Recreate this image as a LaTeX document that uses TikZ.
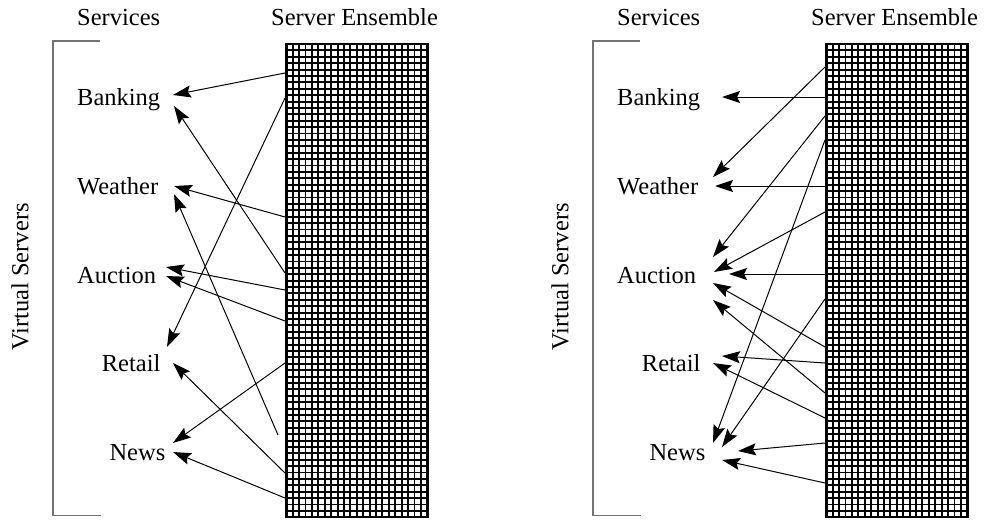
\documentclass[tikz,border=0pt]{standalone}
\usepackage{fontspec}
\setmainfont{Liberation Serif}
\usetikzlibrary{arrows.meta}
\begin{document}
\begin{tikzpicture}[x=1pt,y=-1pt]
\tikzset{
  lbl/.style={font=\fontsize{24.5}{28}\selectfont, inner sep=0pt, anchor=base west},
  link/.style={-{Stealth[length=18pt,width=12pt,inset=3pt]}, line width=1pt},
  brk/.style={draw=black!55, line width=1.3pt},
  ensemble/.style={draw, line width=2.6pt, fill=white, minimum width=141pt,
    minimum height=473pt, anchor=north west, inner sep=0pt,
    path picture={
      \foreach \i in {1,...,21}
        \draw[line width=1.9pt]
          ([xshift=\i*6.409pt]path picture bounding box.north west) --
          ([xshift=\i*6.409pt]path picture bounding box.south west);
      \foreach \j in {1,...,73}
        \draw[line width=1.9pt]
          ([yshift=-\j*6.396pt]path picture bounding box.north west) --
          ([yshift=-\j*6.396pt]path picture bounding box.north east);
    }},
}
\useasboundingbox (0,0) rectangle (987,519);

% ---------- left panel: arbitrary service placement ----------
\begin{scope}
  \node[lbl] (L-svc) at (77,26) {Services};
  \node[lbl] (L-ens) at (271,26) {Server Ensemble};
  \node[font=\fontsize{24.5}{28}\selectfont, rotate=90, inner sep=0pt] (L-vs) at (20,277) {Virtual Servers};
  \draw[brk] (100,41) -- (53,41) -- (53,515.5) -- (101,515.5);
  \node[ensemble] (L-grid) at (285,42.7) {};
  \node[lbl] (L-bank) at (77,105) {Banking};
  \node[lbl] (L-weat) at (77,194) {Weather};
  \node[lbl] (L-auct) at (77,283) {Auction};
  \node[lbl] (L-reta) at (101.7,371) {Retail};
  \node[lbl] (L-news) at (109.3,460) {News};
  % arrow end points
  \foreach \n/\a/\b/\c/\d in {
      1/285/73/173/95, 2/285/98/167/347, 3/285/273/174/106,
      4/285/217/174/186, 5/278/435/174/194, 6/285/290/166/267,
      7/285/321/166/276, 8/285/473/173/363, 9/285/363/173/443,
      10/285/498/173/452} {
    \coordinate (L-s\n) at (\a,\b);
    \coordinate (L-t\n) at (\c,\d);
    \draw[link] (L-s\n) -- (L-t\n);
  }
\end{scope}

% ---------- right panel: grouped service placement ----------
\begin{scope}[xshift=540pt]
  \node[lbl] (R-svc) at (77,26) {Services};
  \node[lbl] (R-ens) at (271,26) {Server Ensemble};
  \node[font=\fontsize{24.5}{28}\selectfont, rotate=90, inner sep=0pt] (R-vs) at (20,277) {Virtual Servers};
  \draw[brk] (100,41) -- (53,41) -- (53,515.5) -- (101,515.5);
  \node[ensemble] (R-grid) at (285,42.7) {};
  \node[lbl] (R-bank) at (77,105) {Banking};
  \node[lbl] (R-weat) at (77,194) {Weather};
  \node[lbl] (R-auct) at (77,283) {Auction};
  \node[lbl] (R-reta) at (101.7,371) {Retail};
  \node[lbl] (R-news) at (109.3,460) {News};
  \foreach \n/\a/\b/\c/\d in {
      1/285/97/182/97, 2/285/67/173/177, 3/285/186/175/186,
      4/285/116/173/257, 5/285/212/174/272, 6/285/274/189/274,
      7/285/140/173/443, 8/285/347/173/283, 9/285/393/173/300,
      10/285/299/182/447, 11/285/363/182/356, 12/285/418/173/363,
      13/285/443/198/451, 14/285/483/182/460} {
    \coordinate (R-s\n) at (\a,\b);
    \coordinate (R-t\n) at (\c,\d);
    \draw[link] (R-s\n) -- (R-t\n);
  }
\end{scope}
\end{tikzpicture}
\end{document}
